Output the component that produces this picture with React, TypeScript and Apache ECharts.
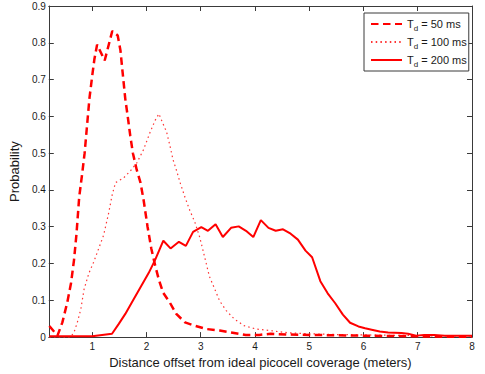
import React, { useEffect, useRef } from 'react';
import * as echarts from 'echarts';

// ---- data ----
const xTicks = [1, 2, 3, 4, 5, 6, 7, 8];
const seriesNames = ['T_d = 50 ms', 'T_d = 100 ms', 'T_d = 200 ms'];
const legendSuffix = [' = 50 ms', ' = 100 ms', ' = 200 ms'];

const x50 = [0.21, 0.36, 0.45, 0.54, 0.61, 0.665, 0.71, 0.76, 0.82, 0.86, 0.9, 0.95, 1.0, 1.04, 1.09, 1.23, 1.37, 1.47, 1.52, 1.56, 1.61, 1.66, 1.7, 1.75, 1.82, 1.89, 1.95, 2.02, 2.09, 2.16, 2.23, 2.31, 2.43, 2.55, 2.71, 2.89, 3.1, 3.35, 3.59, 3.83, 4.08, 4.29, 4.6, 5.0, 5.5, 6.0, 6.5, 7.0, 7.5, 8.0];
const y50 = [0.03, 0.004, 0.04, 0.094, 0.147, 0.21, 0.28, 0.38, 0.45, 0.5, 0.567, 0.65, 0.71, 0.755, 0.795, 0.752, 0.832, 0.82, 0.78, 0.72, 0.647, 0.594, 0.549, 0.5, 0.455, 0.42, 0.37, 0.3, 0.24, 0.195, 0.155, 0.12, 0.094, 0.063, 0.04, 0.031, 0.022, 0.018, 0.012, 0.006, 0.006, 0.009, 0.007, 0.006, 0.005, 0.004, 0.003, 0.002, 0.001, 0.001];

const x100 = [0.21, 0.6, 0.665, 0.726, 0.79, 0.85, 0.94, 1.03, 1.12, 1.21, 1.3, 1.37, 1.43, 1.49, 1.58, 1.7, 1.82, 1.945, 2.07, 2.16, 2.23, 2.29, 2.37, 2.43, 2.49, 2.55, 2.62, 2.71, 2.8, 2.89, 2.98, 3.04, 3.1, 3.16, 3.26, 3.35, 3.47, 3.62, 3.8, 4.02, 4.26, 4.6, 5.0, 5.5, 6.0, 6.5, 7.0, 7.5, 8.0];
const y100 = [0.0, 0.0, 0.013, 0.04, 0.076, 0.13, 0.174, 0.205, 0.241, 0.277, 0.335, 0.388, 0.42, 0.425, 0.433, 0.451, 0.473, 0.509, 0.558, 0.589, 0.607, 0.585, 0.558, 0.522, 0.482, 0.455, 0.42, 0.38, 0.344, 0.313, 0.272, 0.237, 0.201, 0.165, 0.13, 0.098, 0.072, 0.049, 0.031, 0.022, 0.018, 0.012, 0.009, 0.007, 0.006, 0.005, 0.004, 0.003, 0.003];

const x200 = [0.21, 0.6, 1.0, 1.365, 1.49, 1.61, 1.73, 1.885, 2.04, 2.16, 2.311, 2.444, 2.598, 2.726, 2.859, 3.011, 3.133, 3.274, 3.408, 3.559, 3.7, 3.834, 3.969, 4.108, 4.249, 4.382, 4.517, 4.657, 4.791, 4.931, 5.053, 5.205, 5.34, 5.479, 5.62, 5.753, 5.907, 6.03, 6.15, 6.3, 6.455, 6.7, 6.82, 6.97, 7.12, 7.3, 7.5, 8.0];
const y200 = [0.002, 0.002, 0.002, 0.009, 0.036, 0.063, 0.094, 0.134, 0.174, 0.21, 0.262, 0.241, 0.259, 0.248, 0.286, 0.299, 0.289, 0.307, 0.272, 0.297, 0.301, 0.289, 0.272, 0.318, 0.297, 0.289, 0.293, 0.281, 0.265, 0.235, 0.217, 0.152, 0.119, 0.092, 0.061, 0.039, 0.029, 0.024, 0.02, 0.015, 0.0126, 0.011, 0.009, 0.004, 0.006, 0.006, 0.004, 0.004];

const pairs = (xs: number[], ys: number[]) => xs.map((x, i) => [x, ys[i]]);

const FONT = '"Liberation Sans", Arial, Helvetica, sans-serif';
const AXIS_COLOR = '#3a3a3a';
const TEXT_COLOR = '#1a1a1a';

export default function App() {
  const ref = useRef<HTMLDivElement>(null);

  useEffect(() => {
    document.body.style.margin = '0';
    if (!ref.current) return;
    const chart = echarts.init(ref.current, undefined, { renderer: 'svg' });

    const axisLine = { show: true, onZero: false, lineStyle: { color: AXIS_COLOR, width: 1 } };
    const tickStyle = { color: AXIS_COLOR, width: 1 };

    const option: any = {
      animation: false,
      backgroundColor: '#ffffff',
      textStyle: { fontFamily: FONT },
      grid: { left: 45, right: 13, top: 6, bottom: 32, containLabel: false },
      legend: {
        orient: 'vertical',
        left: 364,
        top: 13,
        padding: [3, 2, 3, 6],
        itemGap: 2,
        itemWidth: 31,
        itemHeight: 14,
        borderColor: AXIS_COLOR,
        borderWidth: 1,
        backgroundColor: '#ffffff',
        data: seriesNames,
        itemStyle: { color: 'rgba(0,0,0,0)', borderColor: 'rgba(0,0,0,0)', borderWidth: 0, opacity: 0 },
        formatter: (name: string) => {
          const i = seriesNames.indexOf(name);
          return '{n|T}{d|d}{n|' + legendSuffix[i] + '}';
        },
        textStyle: {
          color: TEXT_COLOR,
          fontSize: 11,
          fontFamily: FONT,
          rich: {
            n: { fontSize: 11, lineHeight: 16, fontFamily: FONT, color: TEXT_COLOR },
            d: { fontSize: 8, lineHeight: 9, padding: [8, 0, 0, 0], fontFamily: FONT, color: TEXT_COLOR },
          },
        },
      },
      xAxis: [
        {
          type: 'value',
          min: 0.2,
          max: 8,
          position: 'bottom',
          axisLine,
          axisTick: { show: true, inside: true, length: 5, customValues: xTicks, lineStyle: tickStyle },
          axisLabel: { customValues: xTicks, fontSize: 10, color: TEXT_COLOR, margin: 4, fontFamily: FONT },
          splitLine: { show: false },
          name: 'Distance offset from ideal picocell coverage (meters)',
          nameLocation: 'middle',
          nameGap: 16,
          nameTextStyle: { fontSize: 13, color: TEXT_COLOR, fontFamily: FONT },
        },
        {
          type: 'value',
          min: 0.2,
          max: 8,
          position: 'top',
          axisLine,
          axisTick: { show: true, inside: true, length: 5, customValues: xTicks, lineStyle: tickStyle },
          axisLabel: { show: false },
          splitLine: { show: false },
        },
      ],
      yAxis: [
        {
          type: 'value',
          min: 0,
          max: 0.9,
          interval: 0.1,
          position: 'left',
          axisLine,
          axisTick: { show: true, inside: true, length: 5, lineStyle: tickStyle },
          axisLabel: { fontSize: 10, color: TEXT_COLOR, margin: 3, fontFamily: FONT },
          splitLine: { show: false },
          name: 'Probability',
          nameLocation: 'middle',
          nameGap: 22,
          nameTextStyle: { fontSize: 13, color: TEXT_COLOR, fontFamily: FONT },
        },
        {
          type: 'value',
          min: 0,
          max: 0.9,
          interval: 0.1,
          position: 'right',
          axisLine,
          axisTick: { show: true, inside: true, length: 5, lineStyle: tickStyle },
          axisLabel: { show: false },
          splitLine: { show: false },
        },
      ],
      series: [
        {
          name: seriesNames[0],
          type: 'line',
          data: pairs(x50, y50),
          symbol: 'none',
          color: '#ff0000',
          lineStyle: { color: '#ff0000', width: 2.5, type: [7.5, 4.5] },
          z: 3,
        },
        {
          name: seriesNames[1],
          type: 'line',
          data: pairs(x100, y100),
          symbol: 'none',
          color: '#ff0000',
          lineStyle: { color: '#ff3333', width: 1.2, type: [1.5, 3.2] },
          z: 2,
        },
        {
          name: seriesNames[2],
          type: 'line',
          data: pairs(x200, y200),
          symbol: 'none',
          color: '#ff0000',
          lineStyle: { color: '#ff0000', width: 2 },
          z: 4,
        },
      ],
    };

    chart.setOption(option);
    return () => chart.dispose();
  }, []);

  return (
    <div
      ref={ref}
      style={{ position: 'absolute', left: 0, top: 0, width: 485, height: 374, background: '#fff' }}
    />
  );
}
